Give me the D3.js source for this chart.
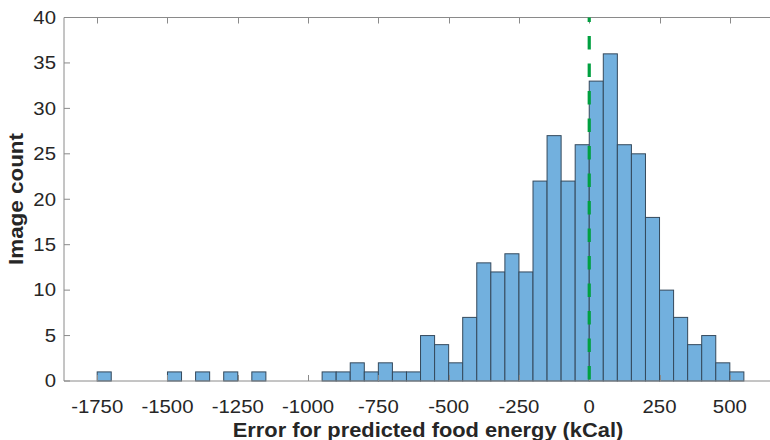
<!DOCTYPE html>
<html><head><meta charset="utf-8">
<script src="https://cdn.jsdelivr.net/npm/d3@7"></script>
<style>
body{margin:0;background:#fff;}
text{font-family:"Liberation Sans",Arial,sans-serif;}
</style></head>
<body><svg id="c" width="770" height="440"></svg>
<script>
// bin left edges (kCal), bin width 50
const binStarts = [-1750,-1500,-1400,-1300,-1200,-950,-900,-850,-800,-750,-700,-650,-600,-550,-500,-450,-400,-350,-300,-250,-200,-150,-100,-50,0,50,100,150,200,250,300,350,400,450,500];
const counts    = [1,1,1,1,1,1,1,2,1,2,1,1,5,4,2,7,13,12,14,12,22,27,22,26,33,36,26,25,18,10,7,4,5,2,1];
const binWidth = 50;
const xTicks = [-1750,-1500,-1250,-1000,-750,-500,-250,0,250,500];
const yTicks = [0,5,10,15,20,25,30,35,40];
const refLine = 0;

const svg = d3.select("#c");
const L=64, T=17.5, B=381, R=772;
const x = d3.scaleLinear().domain([-1868,650]).range([L,R]);
const y = d3.scaleLinear().domain([0,40]).range([B,T]);
const sx = 1.15;
const axisCol = "#8a8a8a", txtCol = "#262626";

// bars
svg.append("g").selectAll("rect").data(binStarts).join("rect")
  .attr("x",(d)=>x(d)).attr("width",(d)=>x(d+binWidth)-x(d))
  .attr("y",(d,i)=>y(counts[i])).attr("height",(d,i)=>y(0)-y(counts[i]))
  .attr("fill","#72b0de").attr("stroke","#34495c").attr("stroke-width",1);

// axes box
const g = svg.append("g");
g.append("line").attr("x1",L).attr("x2",R).attr("y1",B).attr("y2",B).attr("stroke",axisCol);
g.append("line").attr("x1",L).attr("x2",R).attr("y1",T).attr("y2",T).attr("stroke",axisCol);
g.append("line").attr("x1",L).attr("x2",L).attr("y1",T).attr("y2",B).attr("stroke",axisCol);

// x ticks (inward, bottom and top)
xTicks.forEach(v=>{
  const px = Math.round(x(v))+0.5;
  g.append("line").attr("x1",px).attr("x2",px).attr("y1",B).attr("y2",B-6).attr("stroke",axisCol);
  g.append("line").attr("x1",px).attr("x2",px).attr("y1",T).attr("y2",T+6).attr("stroke",axisCol);
  g.append("text").attr("transform",`translate(${x(v)},413) scale(${sx},1)`)
   .attr("text-anchor","middle").attr("font-size",17.7).attr("fill",txtCol).text(v);
});
yTicks.forEach(v=>{
  const py = y(v);
  g.append("line").attr("x1",L).attr("x2",L+6).attr("y1",py).attr("y2",py).attr("stroke",axisCol);
  g.append("text").attr("transform",`translate(56,${py+6.3}) scale(${sx},1)`)
   .attr("text-anchor","end").attr("font-size",17.7).attr("fill",txtCol).text(v);
});

// reference line
svg.append("line").attr("x1",x(refLine)).attr("x2",x(refLine)).attr("y1",T).attr("y2",B)
  .attr("stroke","#00a040").attr("stroke-width",3.2).attr("stroke-dasharray","13.5,14").attr("stroke-dashoffset",9);

// titles
svg.append("text").attr("transform",`translate(428,437) scale(1.12,1)`).attr("text-anchor","middle")
  .attr("font-size",19.5).attr("font-weight","bold").attr("fill",txtCol)
  .text("Error for predicted food energy (kCal)");
svg.append("text").attr("transform",`translate(23,199) rotate(-90) scale(${sx},1)`).attr("text-anchor","middle")
  .attr("font-size",19.5).attr("font-weight","bold").attr("fill",txtCol)
  .text("Image count");
</script></body></html>
